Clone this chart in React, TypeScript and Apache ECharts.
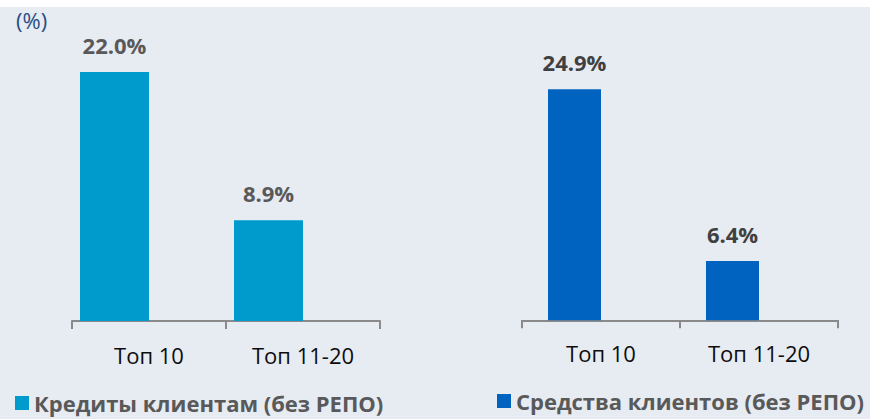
import React, { useEffect, useRef } from "react";
import * as echarts from "echarts";

const categories = ["Топ 10", "Топ 11-20"];
const loansName = "Кредиты клиентам (без РЕПО)";
const depositsName = "Средства клиентов (без РЕПО)";
const loansValues = [22.0, 8.9];
const depositsValues = [24.9, 6.4];
const emptyValues = [null, null];
const unitLabel = "(%)";

const FONT = "Open Sans";

export default function App() {
  const ref = useRef<HTMLDivElement>(null);
  useEffect(() => {
    if (!ref.current) return;
    const chart = echarts.init(ref.current, undefined, { renderer: "svg" });
    const axisCommon = (gridIndex: number, margin: number) => ({
      type: "category" as const,
      gridIndex,
      data: categories,
      axisLine: { show: true, lineStyle: { color: "#8a8a8a", width: 2 } },
      axisTick: { show: true, length: 8, lineStyle: { color: "#8a8a8a", width: 2 } },
      axisLabel: {
        interval: 0,
        margin,
        color: "#0d0d0d",
        fontSize: 22,
        fontFamily: FONT,
      },
    });
    const label = (color: string) => ({
      show: true,
      position: "top" as const,
      distance: 16,
      color,
      fontSize: 22,
      fontWeight: "bold" as const,
      fontFamily: FONT,
      formatter: (p: any) => Number(p.value).toFixed(1) + "%",
    });
    const legendText = { fontSize: 22, fontWeight: "bold", color: "#595959", fontFamily: FONT };
    chart.setOption({
      animation: false,
      backgroundColor: "#e7ebf2",
      graphic: [
        { type: "rect", left: 0, top: 0, shape: { width: 870, height: 7 }, style: { fill: "#ffffff" } },
        {
          type: "text",
          left: 16,
          top: 9,
          style: { text: unitLabel, fontSize: 22, fontFamily: FONT, fill: "#264f84" },
        },
      ],
      grid: [
        { left: 72, top: 38, width: 308, height: 283 },
        { left: 522, top: 42, width: 316, height: 278.3 },
      ],
      xAxis: [axisCommon(0, 23), axisCommon(1, 22)],
      yAxis: [
        { type: "value", gridIndex: 0, min: 0, max: 25, show: false },
        { type: "value", gridIndex: 1, min: 0, max: 30, show: false },
      ],
      legend: [
        {
          data: [loansName],
          left: 15,
          top: 392,
          icon: "rect",
          itemWidth: 14,
          itemHeight: 14,
          padding: 0,
          textStyle: legendText,
        },
        {
          data: [depositsName],
          left: 497,
          top: 390,
          icon: "rect",
          itemWidth: 14,
          itemHeight: 14,
          padding: 0,
          textStyle: legendText,
        },
      ],
      series: [
        {
          name: loansName,
          type: "bar",
          xAxisIndex: 0,
          yAxisIndex: 0,
          data: loansValues,
          barWidth: 69,
          barGap: "0%",
          itemStyle: { color: "#009bcd" },
          label: label("#595959"),
        },
        {
          name: "_empty1",
          type: "bar",
          xAxisIndex: 0,
          yAxisIndex: 0,
          data: emptyValues,
          barWidth: 69,
          barGap: "0%",
        },
        {
          name: depositsName,
          type: "bar",
          xAxisIndex: 1,
          yAxisIndex: 1,
          data: depositsValues,
          barWidth: 53,
          barGap: "0%",
          itemStyle: { color: "#0063bf" },
          label: label("#404040"),
        },
        {
          name: "_empty2",
          type: "bar",
          xAxisIndex: 1,
          yAxisIndex: 1,
          data: emptyValues,
          barWidth: 53,
          barGap: "0%",
        },
      ],
    });
    return () => chart.dispose();
  }, []);
  return (
    <div
      ref={ref}
      style={{ position: "fixed", left: 0, top: 0, width: 870, height: 419 }}
    />
  );
}
